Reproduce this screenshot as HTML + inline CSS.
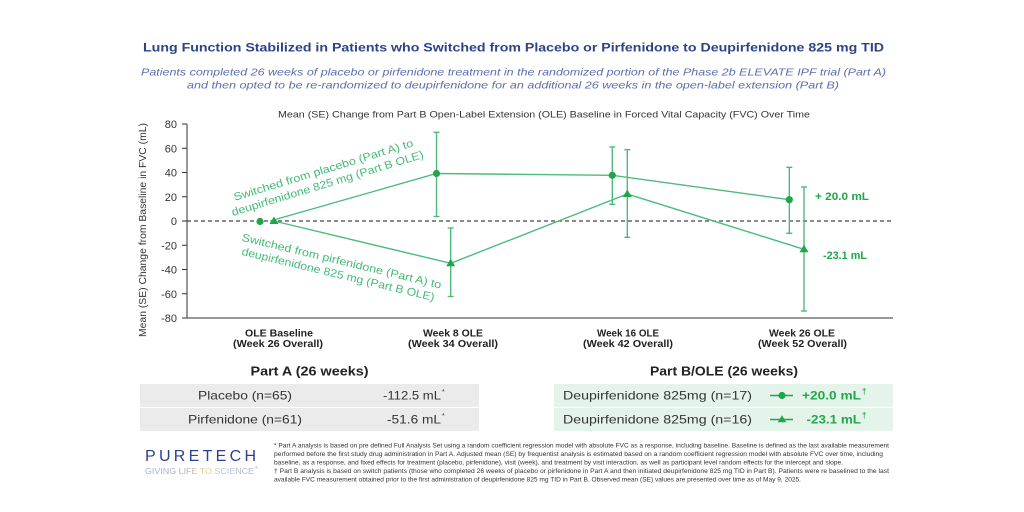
<!DOCTYPE html>
<html><head><meta charset="utf-8"><style>
html,body{margin:0;padding:0;background:#fff;}
svg{display:block;}
text{font-family:"Liberation Sans",sans-serif;}
</style></head><body>
<svg width="1024" height="512" viewBox="0 0 1024 512" xmlns="http://www.w3.org/2000/svg">
<defs>
<linearGradient id="lg" x1="0" x2="1" y1="0" y2="0">
<stop offset="0" stop-color="#8fb9e2"/><stop offset="0.35" stop-color="#b9a7d6"/><stop offset="0.55" stop-color="#e6cf82"/><stop offset="0.75" stop-color="#b7c6d8"/><stop offset="1" stop-color="#a9b6c6"/>
</linearGradient>
</defs>
<rect width="1024" height="512" fill="#fff"/>
<!-- titles -->
<text x="143" y="51.5" font-size="12" font-weight="bold" fill="#2c438a" textLength="741" lengthAdjust="spacingAndGlyphs">Lung Function Stabilized in Patients who Switched from Placebo or Pirfenidone to Deupirfenidone 825 mg TID</text>
<text x="141" y="75.5" font-size="10.5" font-style="italic" fill="#5b6eae" textLength="745" lengthAdjust="spacingAndGlyphs">Patients completed 26 weeks of placebo or pirfenidone treatment in the randomized portion of the Phase 2b ELEVATE IPF trial (Part A)</text>
<text x="187" y="88.5" font-size="10.5" font-style="italic" fill="#5b6eae" textLength="652" lengthAdjust="spacingAndGlyphs">and then opted to be re-randomized to deupirfenidone for an additional 26 weeks in the open-label extension (Part B)</text>
<text x="278" y="117.5" font-size="9.5" fill="#333" textLength="532" lengthAdjust="spacingAndGlyphs">Mean (SE) Change from Part B Open-Label Extension (OLE) Baseline in Forced Vital Capacity (FVC) Over Time</text>
<!-- y axis title -->
<text transform="translate(146,230) rotate(-90)" x="0" y="0" font-size="10" fill="#333" text-anchor="middle" textLength="214" lengthAdjust="spacingAndGlyphs">Mean (SE) Change from Baseline in FVC (mL)</text>
<!-- axes -->
<g stroke="#333" stroke-width="1">
<line x1="187" y1="124" x2="187" y2="318"/>
<line x1="187" y1="318" x2="893" y2="318"/>
<line x1="182" y1="124" x2="187" y2="124"/>
<line x1="182" y1="148.25" x2="187" y2="148.25"/>
<line x1="182" y1="172.5" x2="187" y2="172.5"/>
<line x1="182" y1="196.75" x2="187" y2="196.75"/>
<line x1="182" y1="221" x2="187" y2="221"/>
<line x1="182" y1="245.25" x2="187" y2="245.25"/>
<line x1="182" y1="269.5" x2="187" y2="269.5"/>
<line x1="182" y1="293.75" x2="187" y2="293.75"/>
<line x1="182" y1="318" x2="187" y2="318"/>
</g>
<g font-size="11" fill="#333" text-anchor="end">
<text x="177" y="128">80</text>
<text x="177" y="152.25">60</text>
<text x="177" y="176.5">40</text>
<text x="177" y="200.75">20</text>
<text x="177" y="225">0</text>
<text x="177" y="249.25">-20</text>
<text x="177" y="273.5">-40</text>
<text x="177" y="297.75">-60</text>
<text x="177" y="322">-80</text>
</g>
<line x1="187" y1="221" x2="893" y2="221" stroke="#444" stroke-width="1.2" stroke-dasharray="4,3"/>
<!-- x labels -->
<g font-size="10.5" font-weight="bold" fill="#222" text-anchor="middle">
<text x="279" y="336.5" textLength="68" lengthAdjust="spacingAndGlyphs">OLE Baseline</text>
<text x="278" y="347" textLength="90" lengthAdjust="spacingAndGlyphs">(Week 26 Overall)</text>
<text x="453" y="336.5" textLength="60" lengthAdjust="spacingAndGlyphs">Week 8 OLE</text>
<text x="453" y="347" textLength="90" lengthAdjust="spacingAndGlyphs">(Week 34 Overall)</text>
<text x="628" y="336.5" textLength="62" lengthAdjust="spacingAndGlyphs">Week 16 OLE</text>
<text x="628" y="347" textLength="90" lengthAdjust="spacingAndGlyphs">(Week 42 Overall)</text>
<text x="802" y="336.5" textLength="66" lengthAdjust="spacingAndGlyphs">Week 26 OLE</text>
<text x="802.5" y="347" textLength="89" lengthAdjust="spacingAndGlyphs">(Week 52 Overall)</text>
</g>
<!-- series lines -->
<g stroke="#4cbb7c" stroke-width="1.4" fill="none">
<polyline points="270,221 436.5,173.5 612.3,175.3 789.3,199.7"/>
<polyline points="274,221 450.7,263.3 627.3,194 804,249.3"/>
<!-- error bars -->
<line x1="436.5" y1="132.3" x2="436.5" y2="216.5"/><line x1="433.5" y1="132.3" x2="439.5" y2="132.3"/><line x1="433.5" y1="216.5" x2="439.5" y2="216.5"/>
<line x1="612.3" y1="147" x2="612.3" y2="204.3"/><line x1="609.3" y1="147" x2="615.3" y2="147"/><line x1="609.3" y1="204.3" x2="615.3" y2="204.3"/>
<line x1="789.3" y1="167.3" x2="789.3" y2="233.3"/><line x1="786.3" y1="167.3" x2="792.3" y2="167.3"/><line x1="786.3" y1="233.3" x2="792.3" y2="233.3"/>
<line x1="450.7" y1="228" x2="450.7" y2="296.5"/><line x1="447.7" y1="228" x2="453.7" y2="228"/><line x1="447.7" y1="296.5" x2="453.7" y2="296.5"/>
<line x1="627.3" y1="149.7" x2="627.3" y2="237.3"/><line x1="624.3" y1="149.7" x2="630.3" y2="149.7"/><line x1="624.3" y1="237.3" x2="630.3" y2="237.3"/>
<line x1="804" y1="187" x2="804" y2="311"/><line x1="801" y1="187" x2="807" y2="187"/><line x1="801" y1="311" x2="807" y2="311"/>
</g>
<!-- markers -->
<g fill="#1fa64c">
<circle cx="260" cy="221.5" r="3.6"/>
<circle cx="436.5" cy="173.5" r="3.6"/>
<circle cx="612.3" cy="175.3" r="3.6"/>
<circle cx="789.3" cy="199.7" r="3.6"/>
<polygon points="274,216.5 278.5,224 269.5,224"/>
<polygon points="450.7,258.8 455.2,266.3 446.2,266.3"/>
<polygon points="627.3,189.5 631.8,197 622.8,197"/>
<polygon points="804,244.8 808.5,252.3 799.5,252.3"/>
</g>
<!-- annotations -->
<g font-size="11" fill="#45b978" text-anchor="middle">
<text transform="translate(323.3,169.7) rotate(-17)" x="0" y="4" textLength="187" lengthAdjust="spacingAndGlyphs">Switched from placebo (Part A) to</text>
<text transform="translate(327.5,183) rotate(-17)" x="0" y="4" textLength="200" lengthAdjust="spacingAndGlyphs">deupirfenidone 825 mg (Part B OLE)</text>
<text transform="translate(341.7,260.8) rotate(13.5)" x="0" y="4" textLength="205" lengthAdjust="spacingAndGlyphs">Switched from pirfenidone (Part A) to</text>
<text transform="translate(338.3,274) rotate(13.5)" x="0" y="4" textLength="198" lengthAdjust="spacingAndGlyphs">deupirfenidone 825 mg (Part B OLE)</text>
</g>
<g font-size="11" font-weight="bold" fill="#1fa84a">
<text x="815" y="200" textLength="54" lengthAdjust="spacingAndGlyphs">+ 20.0 mL</text>
<text x="823" y="259" textLength="44" lengthAdjust="spacingAndGlyphs">-23.1 mL</text>
</g>
<!-- tables -->
<text x="309.5" y="375.5" font-size="12.5" font-weight="bold" fill="#222" text-anchor="middle" textLength="118" lengthAdjust="spacingAndGlyphs">Part A (26 weeks)</text>
<text x="724" y="375.5" font-size="12.5" font-weight="bold" fill="#222" text-anchor="middle" textLength="148" lengthAdjust="spacingAndGlyphs">Part B/OLE (26 weeks)</text>
<rect x="140" y="384" width="339" height="23" fill="#ebebeb"/>
<rect x="140" y="408" width="339" height="23" fill="#ebebeb"/>
<rect x="554" y="384" width="339" height="23" fill="#e5f4ea"/>
<rect x="554" y="408" width="339" height="23" fill="#e5f4ea"/>
<g font-size="12" fill="#333">
<text x="245" y="399.5" text-anchor="middle" textLength="94" lengthAdjust="spacingAndGlyphs">Placebo (n=65)</text>
<text x="245" y="423.5" text-anchor="middle" textLength="114" lengthAdjust="spacingAndGlyphs">Pirfenidone (n=61)</text>
<text x="383" y="399.5" textLength="58" lengthAdjust="spacingAndGlyphs">-112.5 mL</text>
<text x="442" y="394" font-size="7">*</text>
<text x="387" y="423.5" textLength="54" lengthAdjust="spacingAndGlyphs">-51.6 mL</text>
<text x="442" y="418" font-size="7">*</text>
<text x="563" y="399.5" textLength="189" lengthAdjust="spacingAndGlyphs">Deupirfenidone 825mg (n=17)</text>
<text x="563" y="423.5" textLength="189" lengthAdjust="spacingAndGlyphs">Deupirfenidone 825mg (n=16)</text>
</g>
<line x1="770" y1="395.5" x2="793" y2="395.5" stroke="#1fa64c" stroke-width="1.4"/>
<circle cx="782" cy="395.5" r="3.6" fill="#1fa64c"/>
<line x1="770" y1="419.5" x2="793" y2="419.5" stroke="#1fa64c" stroke-width="1.4"/>
<polygon points="782,415.3 786.3,422.3 777.7,422.3" fill="#1fa64c"/>
<g font-size="12" font-weight="bold" fill="#1fa84a">
<text x="802" y="399.5" textLength="59" lengthAdjust="spacingAndGlyphs">+20.0 mL</text>
<text x="862" y="394" font-size="8">†</text>
<text x="806.5" y="423.5" textLength="54.5" lengthAdjust="spacingAndGlyphs">-23.1 mL</text>
<text x="862" y="418" font-size="8">†</text>
</g>
<!-- logo -->
<text x="145" y="461" font-size="16" fill="#2e3f8e" textLength="111" lengthAdjust="spacing">PURETECH</text>
<text x="145" y="474" font-size="8.6" fill="url(#lg)" textLength="109" lengthAdjust="spacingAndGlyphs">GIVING LIFE TO SCIENCE</text>
<text x="255" y="469" font-size="4" fill="#aab">®</text>
<!-- footnotes -->
<g font-size="6" fill="#333">
<text x="274" y="447.5" textLength="615" lengthAdjust="spacingAndGlyphs">* Part A analysis is based on pre defined Full Analysis Set using a random coefficient regression model with absolute FVC as a response, including baseline. Baseline is defined as the last available measurement</text>
<text x="274" y="456" textLength="609" lengthAdjust="spacingAndGlyphs">performed before the first study drug administration in Part A. Adjusted mean (SE) by frequentist analysis is estimated based on a random coefficient regression model with absolute FVC over time, including</text>
<text x="274" y="464.5" textLength="569" lengthAdjust="spacingAndGlyphs">baseline, as a response, and fixed effects for treatment (placebo, pirfenidone), visit (week), and treatment by visit interaction, as well as participant level random effects for the intercept and slope.</text>
<text x="274" y="473" textLength="615" lengthAdjust="spacingAndGlyphs">† Part B analysis is based on switch patients (those who completed 26 weeks of placebo or pirfenidone in Part A and then initiated deupirfenidone 825 mg TID in Part B). Patients were re baselined to the last</text>
<text x="274" y="481.5" textLength="527" lengthAdjust="spacingAndGlyphs">available FVC measurement obtained prior to the first administration of deupirfenidone 825 mg TID in Part B. Observed mean (SE) values are presented over time as of May 9, 2025.</text>
</g>
</svg>
</body></html>
